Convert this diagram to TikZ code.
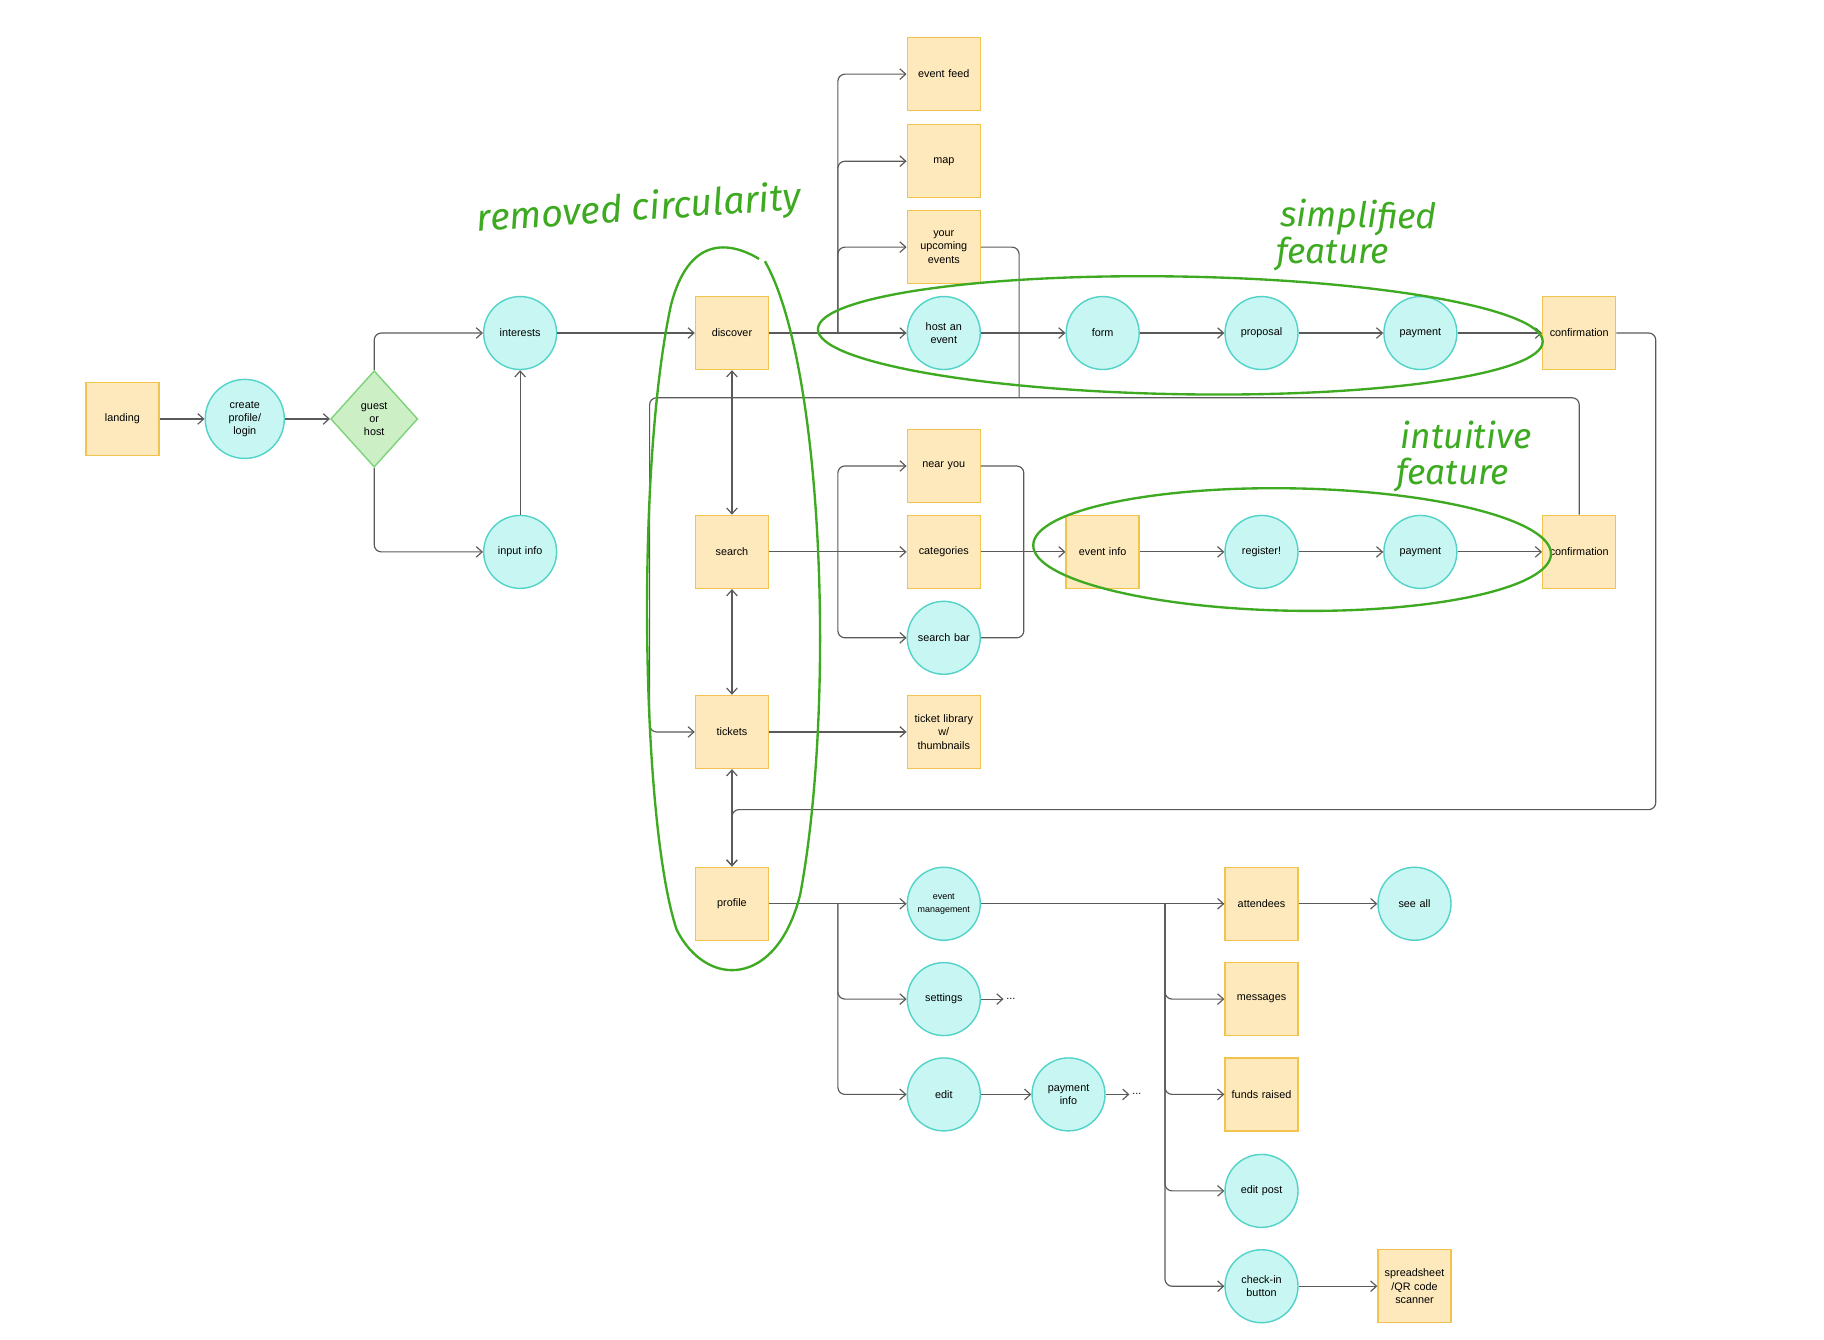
\documentclass[tikz,border=0pt]{standalone}
\usepackage{fontspec}
\setmainfont{Liberation Sans}
\newfontfamily\hand{Fira Sans}
\usetikzlibrary{arrows.meta,shapes.geometric}
\definecolor{boxf}{HTML}{FDE9BC}
\definecolor{boxd}{HTML}{F2C44E}
\definecolor{cirf}{HTML}{C8F6F2}
\definecolor{cird}{HTML}{52D3C9}
\definecolor{diaf}{HTML}{CDEFC6}
\definecolor{diad}{HTML}{7ED27A}
\definecolor{ann}{HTML}{3DAA22}
\definecolor{ln}{HTML}{5A5A5A}
\begin{document}
\begin{tikzpicture}[x=0.5pt,y=-0.5pt,
  every node/.style={font=\fontsize{4.6}{5.6}\selectfont, align=center, inner sep=1pt},
  bx/.style={draw=boxd, fill=boxf, line width=0.6pt, minimum width=31pt, minimum height=31pt, text width=29pt},
  ci/.style={circle, draw=cird, fill=cirf, line width=0.6pt, minimum size=31pt, text width=27pt},
  di/.style={diamond, draw=diad, fill=diaf, line width=0.6pt, minimum width=37pt, minimum height=41pt, inner sep=0pt},
  c/.style={draw=ln, line width=0.5pt, -{Straight Barb[length=2.5pt,width=4.5pt]}, rounded corners=3pt},
  cc/.style={c, {Straight Barb[length=2.5pt,width=4.5pt]}-{Straight Barb[length=2.5pt,width=4.5pt]}},
  l/.style={draw=ln, line width=0.5pt, rounded corners=3pt},
  an/.style={text=ann, font=\hand\itshape\fontsize{15}{15}\selectfont, inner sep=0pt, anchor=west},
  ae/.style={draw=ann, line width=1pt}]
\useasboundingbox (0,0) rectangle (1550,1138);
\node[bx] (land) at (104,356) {landing};
\node[ci] (create) at (208,356) {create\\profile/\\login};
\node[di] (guest) at (318,356) {guest\\or\\host};
\node[ci] (inter) at (442,283) {interests};
\node[ci] (input) at (442,469) {input info};
\node[bx] (disc) at (622,283) {discover};
\node[bx] (srch) at (622,469) {search};
\node[bx] (tick) at (622,622) {tickets};
\node[bx] (prof) at (622,768) {profile};
\node[bx] (feed) at (802,63) {event feed};
\node[bx] (map) at (802,137) {map};
\node[bx] (upc) at (802,210) {your\\upcoming\\events};
\node[ci] (host) at (802,283) {host an\\event};
\node[ci] (form) at (937,283) {form};
\node[ci] (prop) at (1072,283) {proposal};
\node[ci] (pay1) at (1207,283) {payment};
\node[bx] (conf1) at (1342,283) {confirmation};
\node[bx] (near) at (802,396) {near you};
\node[bx] (cat) at (802,469) {categories};
\node[ci] (sbar) at (802,542) {search bar};
\node[bx] (einfo) at (937,469) {event info};
\node[ci] (reg) at (1072,469) {register!};
\node[ci] (pay2) at (1207,469) {payment};
\node[bx] (conf2) at (1342,469) {confirmation};
\node[bx] (tlib) at (802,622) {ticket library\\w/\\thumbnails};
\node[ci] (emgmt) at (802,768) {\fontsize{3.8}{4.6}\selectfont event\\management};
\node[ci] (sett) at (802,849) {settings};
\node[ci] (edit) at (802,930) {edit};
\node[ci] (pinfo) at (908,930) {payment\\info};
\node (dots1) at (859,849) {...};
\node (dots2) at (966,930) {...};
\node[bx] (att) at (1072,768) {attendees};
\node[ci] (seeall) at (1202,768) {see all};
\node[bx] (msg) at (1072,849) {messages};
\node[bx] (funds) at (1072,930) {funds raised};
\node[ci] (epost) at (1072,1012) {edit post};
\node[ci] (chk) at (1072,1093) {check-in\\button};
\node[bx] (sheet) at (1202,1093) {spreadsheet\\/QR code\\scanner};
% coordinates
\coordinate (b1) at (712,283); \coordinate (b2) at (712,469); \coordinate (b3) at (712,768);
\coordinate (m1) at (870,469); \coordinate (b4) at (990,768);
\coordinate (u1) at (866,338); \coordinate (lp) at (552,338);
\coordinate (r2) at (1407,688);
% connectors
\draw[c] (land) -- (create); \draw[c] (create) -- (guest);
\draw[c] (guest.north) |- (inter); \draw[c] (guest.south) |- (input);
\draw[c] (input) -- (inter); \draw[c] (inter) -- (disc);
\draw[c] (disc) -- (host);
\draw[c] (b1) |- (feed.west);
\draw[c] (b1) |- (map.west);
\draw[c] (b1) |- (upc.west);
\draw[c] (host) -- (form); \draw[c] (form) -- (prop); \draw[c] (prop) -- (pay1); \draw[c] (pay1) -- (conf1);
\draw[cc] (disc) -- (srch); \draw[cc] (srch) -- (tick); \draw[cc] (tick) -- (prof);
\draw[c] (srch) -- (cat);
\draw[c] (b2) |- (near.west);
\draw[c] (b2) |- (sbar.west);
\draw[l] (near.east) -| (m1); \draw[l] (sbar.east) -| (m1);
\draw[c] (cat) -- (einfo);
\draw[c] (einfo) -- (reg); \draw[c] (reg) -- (pay2); \draw[c] (pay2) -- (conf2);
\draw[l] (upc.east) -| (u1);
\draw[c] (conf2.north) |- (lp) |- (tick.west);
\draw[c] (tick) -- (tlib);
\draw[c] (conf1.east) -| (r2) -| (prof.north);
\draw[c] (prof) -- (emgmt);
\draw[c] (b3) |- (sett.west);
\draw[c] (b3) |- (edit.west);
\draw[c] (sett) -- (dots1); \draw[c] (edit) -- (pinfo); \draw[c] (pinfo) -- (dots2);
\draw[c] (emgmt) -- (att); \draw[c] (att) -- (seeall);
\draw[c] (b4) |- (msg.west); \draw[c] (b4) |- (funds.west);
\draw[c] (b4) |- (epost.west); \draw[c] (b4) |- (chk.west);
\draw[c] (chk) -- (sheet);
% annotations
\node[an, rotate=4, font=\hand\itshape\fontsize{16}{16}\selectfont] (t1) at (405,188) {removed circularity};
\node[an, rotate=-1] (t2a) at (1088,184) {simplified};
\node[an] (t2b) at (1084,216) {feature};
\node[an] (t3a) at (1190,370) {intuitive};
\node[an] (t3b) at (1186,404) {feature};
\draw[ae] (650,222) .. controls (700,310) and (710,600) .. (680,760)
  .. controls (660,840) and (600,840) .. (575,790)
  .. controls (545,700) and (540,400) .. (570,260)
  .. controls (585,200) and (620,205) .. (645,220);
\draw[ae, rotate around={-1:(1003,285)}] (1003,285) ellipse (308 and 50);
\draw[ae, rotate around={-1:(1098,467)}] (1098,467) ellipse (220 and 52);
\end{tikzpicture}
\end{document}
